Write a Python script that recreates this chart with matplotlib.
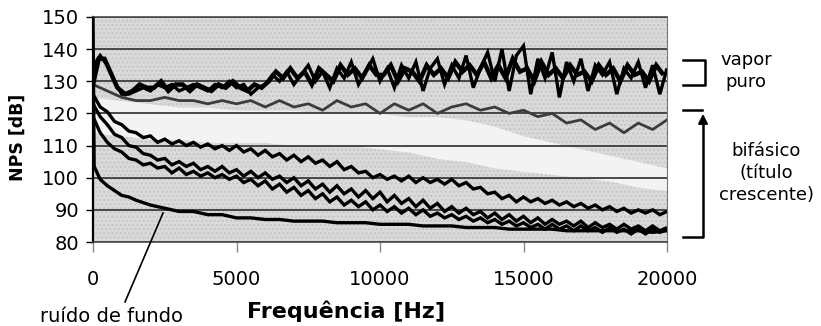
import matplotlib
matplotlib.use("Agg")
import matplotlib.pyplot as plt
from matplotlib.lines import Line2D
from matplotlib.patches import FancyArrowPatch
import numpy as np

# frequency grids [Hz]
f250 = np.arange(0, 20001, 250)
f500 = np.arange(0, 20001, 500)
f1000 = np.arange(0, 20001, 1000)

# vapor puro - spiky trace and a second trace filling the band
vapor_f = [0, 100, 250, 500, 750, 1000] + list(range(1250, 20001, 250))
vapor_db = [131, 136, 138, 135, 130, 126,
            126, 127, 128, 127,
            129, 128, 129, 127,
            128, 129, 128, 127,
            129, 128, 130, 128,
            129, 126, 128, 129,
            132, 130, 133, 129,
            132, 135, 130, 133,
            128, 134, 131, 136,
            129, 133, 137, 130,
            134, 128, 135, 131,
            136, 127, 134, 137,
            129, 135, 131, 138,
            128, 134, 139, 130,
            140, 127, 138, 141,
            126, 137, 131, 139,
            125, 136, 130, 137,
            127, 135, 132, 136,
            126, 134, 131, 136,
            128, 135, 126, 134]
vapor2_f = [0, 200, 400, 600, 850] + list(range(1125, 20000, 250))
vapor2_db = [129, 137, 137, 133, 128,
             126, 127, 129, 128,
             128, 130, 127, 129,
             129, 127, 129, 128,
             127, 129, 128, 130,
             128, 127, 129, 128,
             130, 133, 131, 134,
             131, 133, 129, 134,
             132, 130, 135, 132,
             134, 131, 135, 132,
             132, 135, 130, 134,
             133, 130, 135, 132,
             134, 131, 136, 133,
             135, 132, 136, 131,
             135, 131, 137, 133,
             134, 130, 136, 132,
             134, 131, 135, 132,
             133, 130, 135, 132,
             134, 130, 135, 132,
             133, 130, 135, 132]

# grey two-phase trace (lowest quality)
grey_db = [129, 127, 125, 124, 124, 125, 124, 124, 123, 124,
           123, 124, 122, 124, 122, 123, 121, 124, 122, 123,
           120, 123, 121, 123, 120, 122, 123, 121, 122, 120,
           121, 119, 120, 117, 118, 115, 117, 114, 117, 115, 118]

# whitish band (intermediate qualities)
band_hi = [125, 124, 123, 122, 122, 121, 121, 121, 120, 120, 120,
           119, 119, 118, 116, 113, 111, 109, 107, 105, 103]
band_lo = [114, 113, 112, 112, 111, 111, 111, 110, 110, 110, 109,
           108, 106, 105, 103, 102, 101, 100, 99, 97, 96]

# black two-phase traces
trace_a = [126, 122, 120.5, 117.5,
           116.5, 114.5, 114, 112.5,
           113, 111, 112, 110.5,
           111.5, 110, 111, 109.5,
           110.5, 109, 110, 108.5,
           110, 108, 109, 107,
           108.5, 106.5, 107.5, 105.5,
           107, 105, 106.5, 104.5,
           105.5, 103.5, 105, 102.5,
           103.5, 101.5, 102, 100,
           101, 99.5, 100.5, 99,
           100.5, 98.5, 100, 98.5,
           99.5, 98, 99.5, 97.5,
           98.5, 96.5, 97, 95,
           95.5, 93.5, 94.5, 92.5,
           94, 92.5, 93.5, 92,
           93, 91.5, 92.5, 91,
           92, 90.5, 91.5, 90,
           91, 89.5, 90.5, 89,
           90, 89, 90, 88.5,
           89.5]
trace_b = [123, 119, 116.5, 113.5,
           112.5, 110, 109.5, 107.5,
           107, 105.5, 106, 104,
           105, 103.5, 104.5, 102.5,
           103.5, 102, 103.5, 101.5,
           102.5, 100.5, 102, 100,
           101.5, 99.5, 100.5, 98.5,
           100, 97.5, 99, 96.5,
           98, 95.5, 97.5, 95,
           96.5, 94, 96, 93.5,
           95.5, 92.5, 94.5, 92,
           93.5, 91, 93, 90.5,
           92, 89.5, 91, 89,
           90.5, 88.5, 89.5, 87.5,
           89, 87, 88.5, 86.5,
           88, 86, 87.5, 85.5,
           87, 85.5, 86.5, 85,
           86.5, 84.5, 86, 84.5,
           85.5, 84, 85.5, 84,
           85, 83.5, 85, 83.5,
           84.5]
trace_c = [119, 114, 111, 109,
           108, 106, 105.5, 104,
           104.5, 103, 103.5, 101.5,
           103, 101, 102, 100.5,
           101.5, 100, 101, 99.5,
           100.5, 98.5, 99.5, 97.5,
           99, 96.5, 98, 95.5,
           97, 94.5, 96, 93.5,
           95, 92.5, 94, 91.5,
           93, 91, 92.5, 90,
           91.5, 89.5, 91, 89,
           90.5, 88.5, 90, 88,
           89, 87.5, 88.5, 87,
           88, 86.5, 87.5, 86,
           87, 85.5, 86.5, 85,
           86, 84.5, 85.5, 84,
           85.5, 84, 85, 83.5,
           85, 83.5, 84.5, 83,
           84.5, 83, 84, 82.5,
           84, 82.5, 84, 83,
           84]

# ruido de fundo (background noise)
noise_f = [0, 40, 250, 500, 750, 1000, 1250, 1500] + list(range(2000, 20001, 500))
noise_db = [150, 103.5, 99.5, 97.5, 96, 94.5, 94, 93,
            91.5, 90.5, 89.5, 89.5, 88.5, 88.5, 87.5, 87.5,
            87, 87, 86.5, 86.5, 86.5, 86, 86, 86,
            85.5, 85.5, 85.5, 85, 85, 85, 84.5, 84.5,
            84.5, 84, 84, 84, 84, 83.5, 83.5, 83.5,
            83.5, 83.5, 83.5, 83, 83.5]

yticks = [80, 90, 100, 110, 120, 130, 140, 150]
xticks = [0, 5000, 10000, 15000, 20000]

W, H = 821, 326
fig = plt.figure(figsize=(W / 100, H / 100), dpi=100)
fig.patch.set_facecolor('white')
ax = fig.add_axes([93 / W, 1 - 242 / H, 574 / W, 225 / H])
ax.set_facecolor('#dadada')
ax.patch.set_hatch('....')
ax.patch.set_edgecolor('#c6c6c6')

ax.fill_between(f1000, band_lo, band_hi, color='#f3f3f3', lw=0, zorder=0.3)

ax.set_axisbelow(True)
ax.yaxis.grid(True, color='#3c3c3c', lw=1.3)

k = dict(solid_capstyle='butt', solid_joinstyle='miter')
ax.plot(f500, grey_db, color='#3c3c3c', lw=2.0, zorder=3)
ax.plot(vapor2_f, vapor2_db, color='black', lw=3.2, zorder=4, **k)
ax.plot(vapor_f, vapor_db, color='black', lw=2.4, zorder=4, **k)
ax.plot(f250, trace_a, color='black', lw=2.4, zorder=4, **k)
ax.plot(f250, trace_b, color='black', lw=2.4, zorder=4, **k)
ax.plot(f250, trace_c, color='black', lw=2.4, zorder=4, **k)
ax.plot(noise_f, noise_db, color='black', lw=2.4, zorder=4, **k)

ax.set_xlim(0, 20000)
ax.set_ylim(80, 150)
ax.set_yticks(yticks)
ax.set_xticks(xticks)
for t in ax.yaxis.get_major_ticks():
    if t.get_loc() in (110, 120):
        t.gridline.set_linestyle((0, (7, 3, 2, 3)))

ax.tick_params(axis='y', direction='out', length=5, width=1, color='black',
               labelsize=14, pad=5)
ax.tick_params(axis='x', direction='out', length=7, width=1, color='#888888',
               labelsize=14, pad=13)
for s in ('top', 'bottom'):
    ax.spines[s].set_color('#4a4a4a')
    ax.spines[s].set_linewidth(1.2)
ax.spines['right'].set_color('#777777')
ax.spines['right'].set_linewidth(0.8)
ax.spines['left'].set_color('black')
ax.spines['left'].set_linewidth(1.6)

ax.set_xlabel('Frequência [Hz]', fontsize=16, fontweight='bold', va='center')
ax.xaxis.set_label_coords((346 - 93) / 574, (242 - 311) / 225)
ax.set_ylabel('NPS [dB]', fontsize=12.5, fontweight='bold', va='center')
ax.yaxis.set_label_coords((18 - 93) / 574, (242 - 137) / 225)


def px(x, y):
    return x / W, 1 - y / H


def seg(points, **kw):
    xs = [px(*p)[0] for p in points]
    ys = [px(*p)[1] for p in points]
    fig.add_artist(Line2D(xs, ys, transform=fig.transFigure, color='black', **kw))


# brackets and labels on the right
seg([(683, 60), (705, 60), (705, 85), (683, 85)], lw=1.8)
seg([(683, 110), (702, 110)], lw=1.8)
seg([(683, 237), (703, 237), (703, 125)], lw=1.8)
fig.add_artist(FancyArrowPatch(px(703, 126), px(703, 111), transform=fig.transFigure,
                               arrowstyle='-|>', mutation_scale=14, color='black', lw=1.5))

fig.text(*px(746, 71), 'vapor\npuro', ha='center', va='center', fontsize=13, linespacing=1.3)
fig.text(*px(766, 173), 'bifásico\n(título\ncrescente)', ha='center', va='center',
         fontsize=13, linespacing=1.3)

# ruido de fundo pointer
seg([(125, 302), (163, 213)], lw=1.2)
fig.text(*px(111, 317), 'ruído de fundo', ha='center', va='center', fontsize=14)

fig.savefig('out.png', dpi=100)
